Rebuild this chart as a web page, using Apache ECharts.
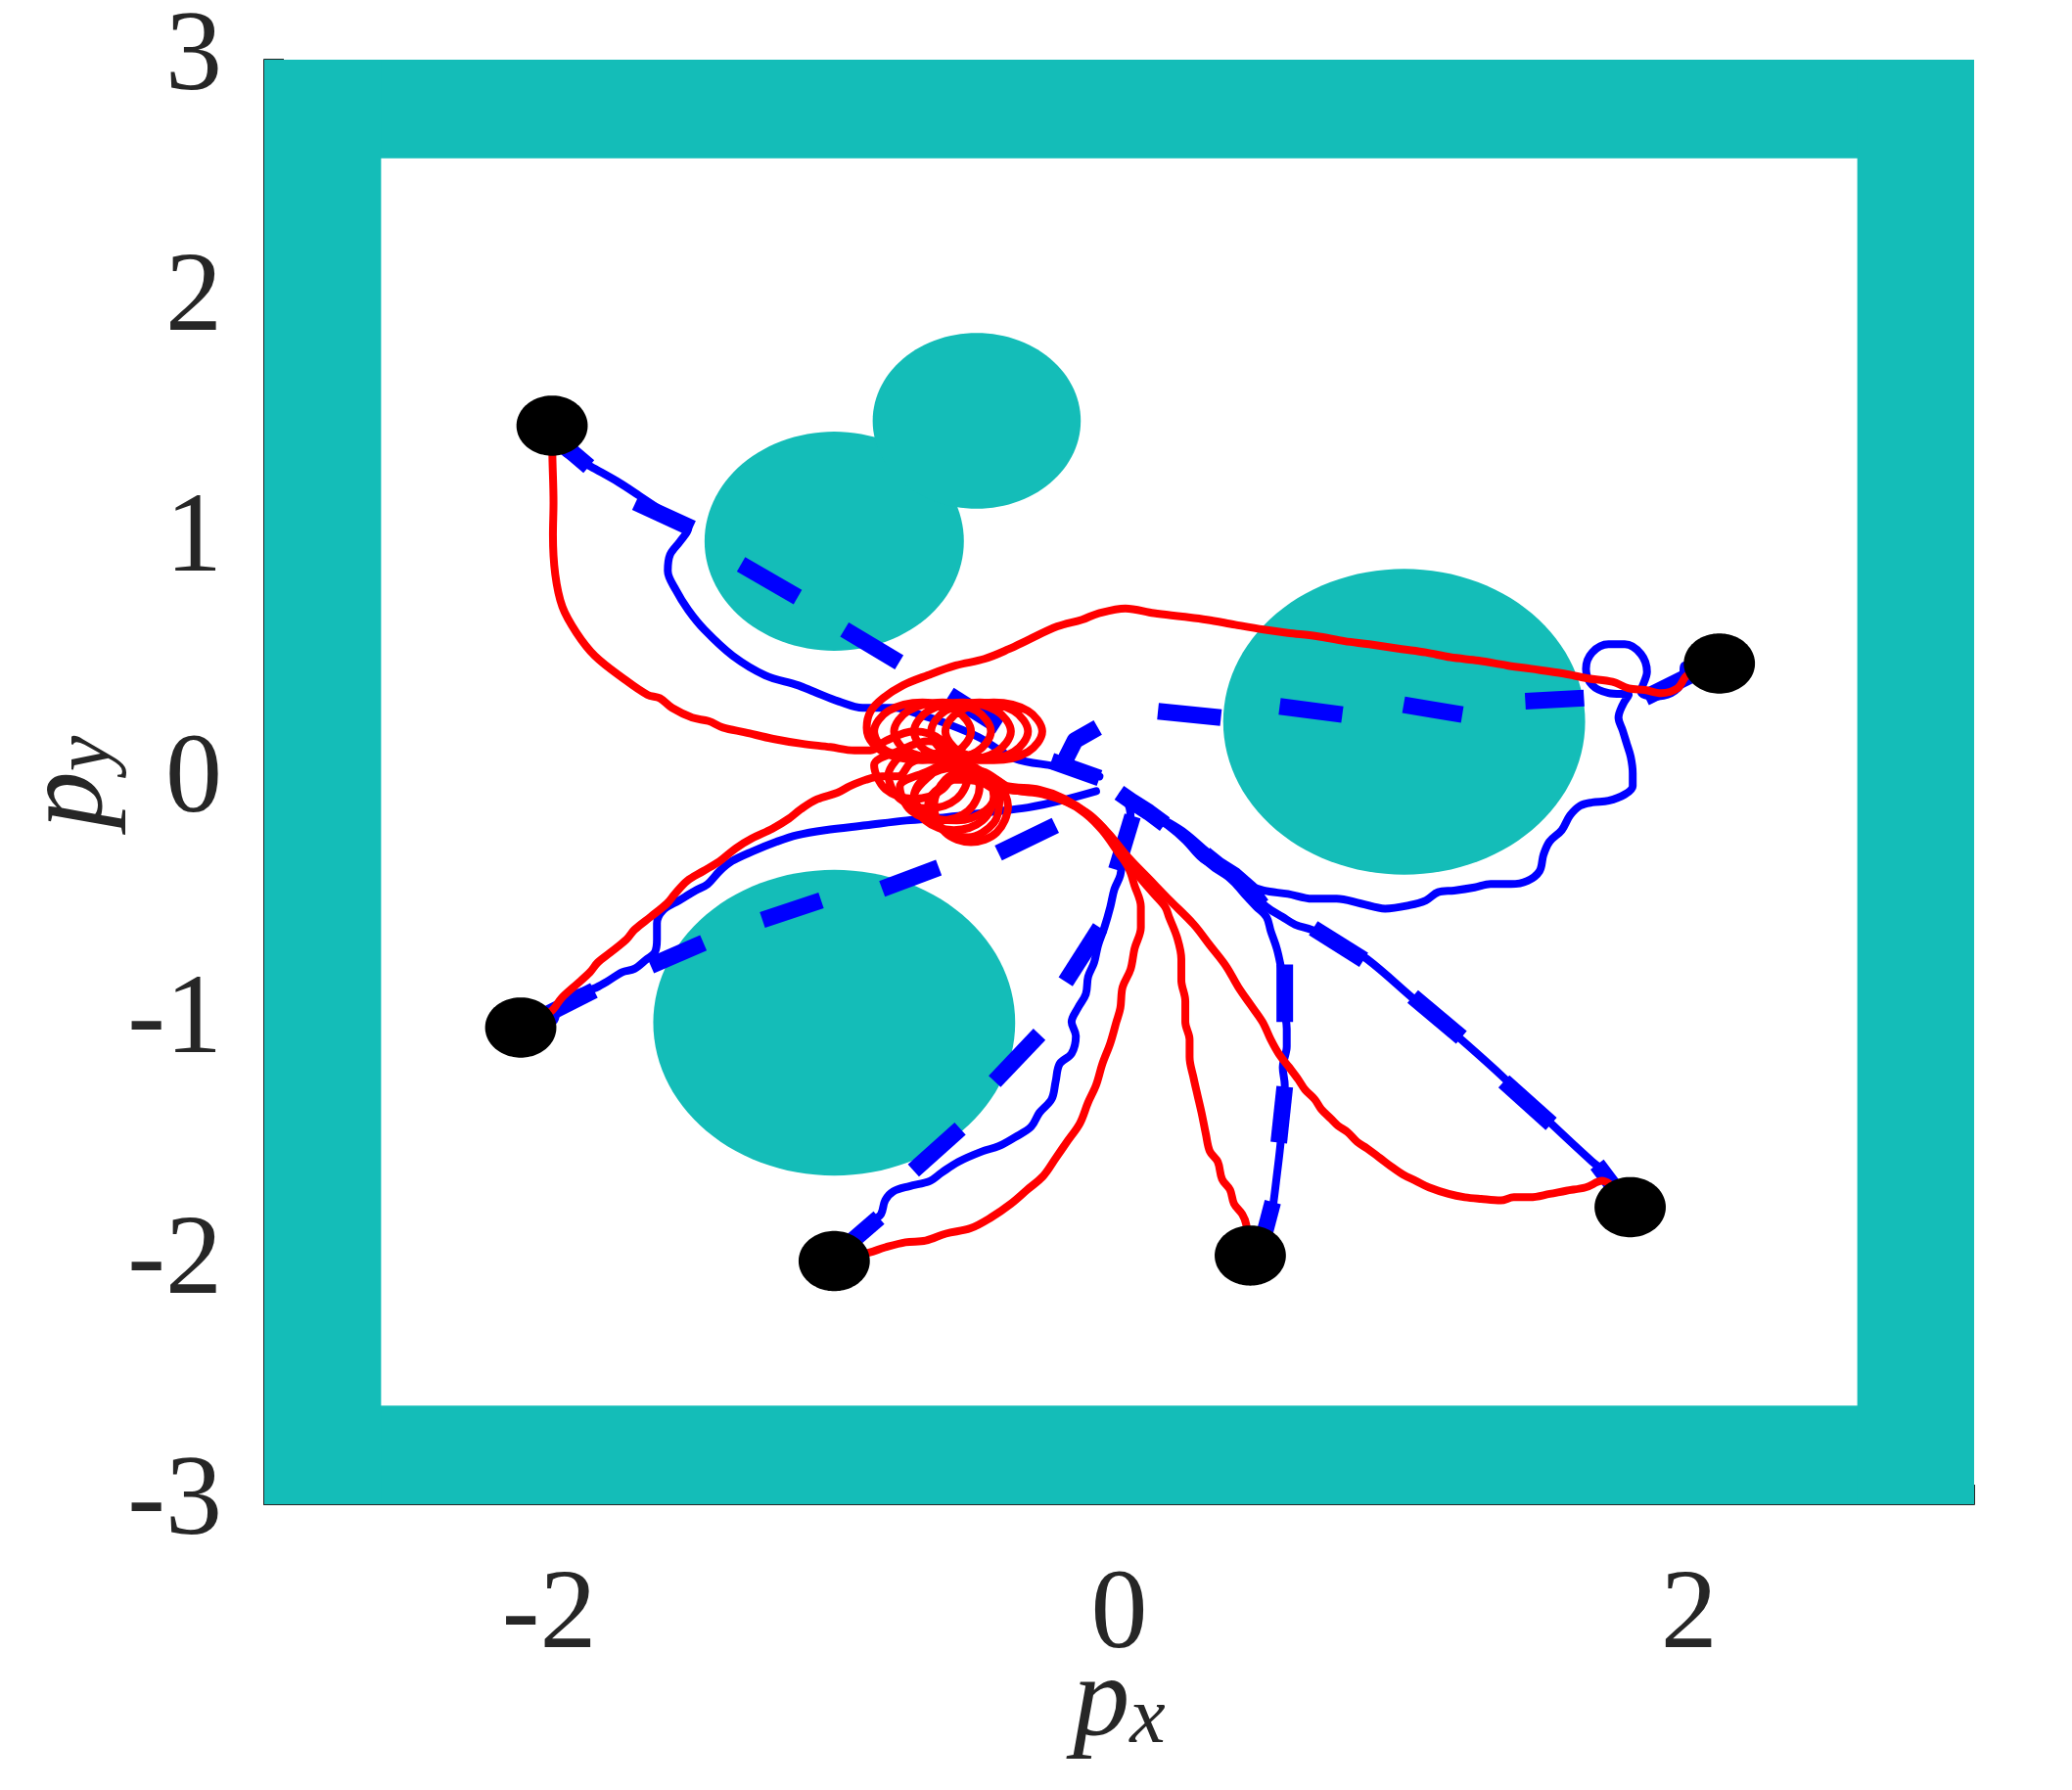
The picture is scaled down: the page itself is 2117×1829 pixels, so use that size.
<!DOCTYPE html>
<html><head><meta charset="utf-8">
<script src="https://cdn.jsdelivr.net/npm/echarts@6/dist/echarts.min.js"></script>
<style>html,body{margin:0;padding:0;background:#fff;}#chart{width:2117px;height:1829px;}</style>
</head><body><div id="chart"></div>
<script>
// ---------- data ----------
const xTickLabels = [-2, 0, 2];
const yTickLabels = [-3, -2, -1, 0, 1, 2, 3];

const wallOuter = 3;
const wallInner = 2.59;

const obstacleX = [-1, -0.5, 1, -1];
const obstacleY = [1, 1.5, 0.25, -1];
const obstacleR = [0.455, 0.365, 0.635, 0.635];

const agentX = [-1.99, -2.1, -1.0, 0.46, 1.793, 2.106];
const agentY = [1.48, -1.02, -1.99, -1.967, -1.766, 0.492];
const agentR = 0.125;

const red1 = [[-1.99,1.48],[-1.989,1.354],[-1.985,1.161],[-1.987,1.026],[-1.979,0.863],[-1.954,0.728],[-1.904,0.619],[-1.840,0.524],[-1.740,0.430],[-1.655,0.362],[-1.612,0.348],[-1.569,0.308],[-1.498,0.267],[-1.441,0.253],[-1.391,0.226],[-1.313,0.206],[-1.214,0.179],[-1.114,0.159],[-1.014,0.145],[-0.929,0.131],[-0.872,0.131],
[-0.82,0.17],[-0.72,0.21],[-0.62,0.17],[-0.58,0.07],[-0.62,-0.03],[-0.72,-0.07],[-0.82,-0.03],[-0.86,0.07],[-0.77,0.13],[-0.67,0.17],[-0.57,0.13],[-0.53,0.03],[-0.57,-0.07],[-0.67,-0.11],[-0.77,-0.07],[-0.81,0.03],[-0.76,0.12]];
const red2 = [[-2.1,-1.02],[-1.993,-0.952],[-1.957,-0.898],[-1.907,-0.844],[-1.857,-0.790],[-1.829,-0.749],[-1.786,-0.709],[-1.729,-0.654],[-1.701,-0.614],[-1.644,-0.560],[-1.587,-0.505],[-1.559,-0.465],[-1.516,-0.411],[-1.459,-0.370],[-1.402,-0.329],[-1.345,-0.275],[-1.288,-0.234],[-1.217,-0.194],[-1.160,-0.153],[-1.117,-0.113],[-1.060,-0.072],[-0.989,-0.045],[-0.946,-0.018],[-0.889,0.009],[-0.832,0.023],[-0.775,0.023],
[-0.73,0.08],[-0.63,0.12],[-0.53,0.08],[-0.49,-0.02],[-0.53,-0.12],[-0.63,-0.16],[-0.73,-0.12],[-0.77,-0.02],[-0.68,0.04],[-0.58,0.08],[-0.48,0.04],[-0.44,-0.06],[-0.48,-0.16],[-0.58,-0.20],[-0.68,-0.16],[-0.72,-0.06],[-0.66,0.03]];
const red3 = [[-1.0,-1.99],[-0.878,-1.955],[-0.821,-1.933],[-0.750,-1.912],[-0.679,-1.905],[-0.608,-1.876],[-0.522,-1.854],[-0.451,-1.810],[-0.380,-1.752],[-0.323,-1.694],[-0.266,-1.636],[-0.223,-1.563],[-0.181,-1.491],[-0.138,-1.418],[-0.109,-1.331],[-0.081,-1.259],[-0.059,-1.171],[-0.031,-1.084],[-0.010,-0.997],[0.004,-0.939],[0.012,-0.852],[0.040,-0.778],[0.054,-0.692],[0.076,-0.605],[0.076,-0.518],[0.054,-0.431],[0.033,-0.358],[-0.005,-0.29],[-0.06,-0.20],[-0.12,-0.13],[-0.19,-0.08],[-0.28,-0.045],[-0.40,-0.03],
[-0.50,0.02],[-0.60,0.0],[-0.67,-0.09],[-0.63,-0.19],[-0.53,-0.23],[-0.44,-0.17],[-0.42,-0.07],[-0.49,0.0],[-0.58,0.01]];
const red4 = [[0.46,-1.967],[0.446,-1.839],[0.432,-1.796],[0.403,-1.752],[0.389,-1.694],[0.361,-1.650],[0.346,-1.578],[0.318,-1.534],[0.304,-1.462],[0.289,-1.374],[0.275,-1.302],[0.261,-1.229],[0.247,-1.142],[0.247,-1.070],[0.232,-0.997],[0.232,-0.910],[0.218,-0.823],[0.218,-0.736],[0.204,-0.649],[0.175,-0.561],[0.161,-0.518],[0.118,-0.460],[0.076,-0.402],[0.047,-0.358],[0.015,-0.30],[-0.035,-0.22],[-0.10,-0.14],[-0.18,-0.085],[-0.27,-0.05],[-0.38,-0.03],
[-0.47,0.04],[-0.57,0.06],[-0.68,0.02],[-0.72,-0.06],[-0.67,-0.14],[-0.57,-0.16],[-0.47,-0.12],[-0.43,-0.04],[-0.50,0.03]];
const red5 = [[1.793,-1.766],[1.694,-1.657],[1.637,-1.684],[1.568,-1.698],[1.511,-1.711],[1.442,-1.725],[1.385,-1.725],[1.339,-1.738],[1.270,-1.732],[1.213,-1.725],[1.156,-1.711],[1.087,-1.684],[1.041,-1.657],[0.995,-1.630],[0.961,-1.603],[0.915,-1.562],[0.870,-1.522],[0.835,-1.495],[0.801,-1.454],[0.767,-1.427],[0.744,-1.400],[0.709,-1.359],[0.686,-1.318],[0.652,-1.278],[0.629,-1.237],[0.595,-1.183],[0.560,-1.129],[0.532,-1.070],[0.503,-0.997],[0.460,-0.924],[0.418,-0.852],[0.375,-0.765],[0.318,-0.678],[0.261,-0.591],[0.175,-0.489],[0.104,-0.402],[0.033,-0.315],[-0.038,-0.213],[-0.109,-0.133],[-0.195,-0.068],[-0.280,-0.032],[-0.394,-0.017],
[-0.43,0.01],[-0.52,0.05],[-0.61,0.01],[-0.65,-0.10],[-0.61,-0.21],[-0.52,-0.25],[-0.43,-0.21],[-0.39,-0.10],[-0.43,0.0],[-0.50,0.05]];
const red6 = [[2.106,0.492],[1.994,0.443],[1.959,0.389],[1.902,0.369],[1.845,0.382],[1.788,0.389],[1.731,0.416],[1.645,0.430],[1.560,0.450],[1.446,0.470],[1.361,0.484],[1.261,0.504],[1.162,0.518],[1.076,0.538],[0.991,0.552],[0.877,0.572],[0.791,0.585],[0.692,0.606],[0.592,0.619],[0.507,0.633],[0.407,0.653],[0.307,0.674],[0.222,0.687],[0.122,0.701],[0.022,0.721],[-0.074,0.700],[-0.131,0.674],[-0.217,0.646],[-0.316,0.592],[-0.387,0.552],[-0.473,0.511],[-0.573,0.484],[-0.672,0.443],[-0.758,0.402],[-0.829,0.348],[-0.872,0.294],[-0.886,0.226],[-0.864,0.159],[-0.80,0.11],
[-0.69,0.09],[-0.57,0.125],[-0.52,0.21],[-0.57,0.295],[-0.69,0.33],[-0.81,0.295],[-0.86,0.21],[-0.81,0.125],
[-0.62,0.09],[-0.50,0.125],[-0.45,0.21],[-0.50,0.295],[-0.62,0.33],[-0.74,0.295],[-0.79,0.21],[-0.74,0.125],
[-0.55,0.09],[-0.43,0.125],[-0.38,0.21],[-0.43,0.295],[-0.55,0.33],[-0.67,0.295],[-0.72,0.21],[-0.67,0.125],
[-0.49,0.09],[-0.37,0.125],[-0.32,0.21],[-0.37,0.295],[-0.49,0.33],[-0.61,0.295],[-0.66,0.21],[-0.61,0.125],
[-0.44,0.09],[-0.32,0.125],[-0.27,0.21],[-0.32,0.295],[-0.44,0.33],[-0.56,0.295],[-0.61,0.21],[-0.56,0.125],[-0.45,0.095]];

const blue1 = [[-1.99,1.48],[-1.954,1.378],[-1.854,1.310],[-1.754,1.243],[-1.683,1.188],[-1.598,1.121],[-1.512,1.053],[-1.541,0.999],[-1.576,0.944],[-1.584,0.877],[-1.555,0.796],[-1.512,0.714],[-1.456,0.633],[-1.356,0.524],[-1.242,0.443],[-1.128,0.402],[-1.071,0.375],[-0.985,0.335],[-0.900,0.308],[-0.786,0.308],[-0.70,0.28],[-0.60,0.24],[-0.493,0.186],[-0.367,0.098],[-0.218,0.064],[-0.069,0.023]];
const blue2 = [[-2.1,-1.02],[-1.985,-0.993],[-1.971,-0.925],[-1.943,-0.898],[-1.886,-0.871],[-1.843,-0.858],[-1.800,-0.831],[-1.744,-0.790],[-1.701,-0.776],[-1.658,-0.736],[-1.630,-0.709],[-1.622,-0.654],[-1.622,-0.587],[-1.601,-0.533],[-1.544,-0.492],[-1.487,-0.451],[-1.444,-0.424],[-1.402,-0.370],[-1.359,-0.329],[-1.288,-0.289],[-1.202,-0.248],[-1.131,-0.221],[-1.032,-0.200],[-0.889,-0.180],[-0.747,-0.160],[-0.604,-0.146],[-0.462,-0.126],[-0.320,-0.106],[-0.206,-0.078],[-0.081,-0.038]];
const blue3 = [[-1.0,-1.99],[-0.885,-1.868],[-0.864,-1.825],[-0.836,-1.796],[-0.821,-1.737],[-0.793,-1.701],[-0.736,-1.679],[-0.665,-1.658],[-0.622,-1.622],[-0.565,-1.578],[-0.480,-1.534],[-0.423,-1.513],[-0.366,-1.476],[-0.309,-1.432],[-0.280,-1.374],[-0.237,-1.317],[-0.223,-1.244],[-0.209,-1.171],[-0.167,-1.128],[-0.152,-1.055],[-0.167,-0.997],[-0.145,-0.939],[-0.117,-0.881],[-0.109,-0.809],[-0.088,-0.750],[-0.074,-0.678],[-0.052,-0.605],[-0.031,-0.518],[-0.017,-0.446],[0.004,-0.387],[0.012,-0.300],[0.026,-0.213],[0.040,-0.141],[0.026,-0.068]];
const blue4 = [[0.46,-1.967],[0.524,-1.868],[0.539,-1.767],[0.553,-1.636],[0.567,-1.491],[0.574,-1.360],[0.581,-1.259],[0.574,-1.186],[0.588,-1.099],[0.588,-1.026],[0.581,-0.939],[0.581,-0.852],[0.567,-0.765],[0.553,-0.692],[0.532,-0.620],[0.517,-0.561],[0.481,-0.518],[0.446,-0.474],[0.403,-0.416],[0.346,-0.358],[0.289,-0.315],[0.232,-0.242],[0.175,-0.184],[0.118,-0.141],[0.061,-0.097],[0.019,-0.061]];
const blue5 = [[1.793,-1.766],[1.728,-1.644],[1.659,-1.576],[1.499,-1.400],[1.339,-1.217],[1.179,-1.048],[1.030,-0.898],[0.870,-0.736],[0.766,-0.661],[0.675,-0.614],[0.618,-0.593],[0.572,-0.560],[0.532,-0.532],[0.503,-0.504],[0.460,-0.446],[0.403,-0.387],[0.346,-0.344],[0.289,-0.286],[0.232,-0.228],[0.161,-0.170],[0.104,-0.126],[0.047,-0.083],[0.012,-0.053]];
const blue6 = [[2.106,0.492],[1.984,0.484],[1.976,0.416],[1.937,0.369],[1.874,0.355],[1.831,0.375],[1.852,0.457],[1.831,0.531],[1.774,0.572],[1.717,0.572],[1.660,0.538],[1.638,0.470],[1.660,0.402],[1.717,0.369],[1.788,0.362],[1.767,0.321],[1.752,0.267],[1.767,0.213],[1.781,0.159],[1.795,0.104],[1.802,0.037],[1.802,-0.017],[1.774,-0.052],[1.717,-0.078],[1.660,-0.085],[1.617,-0.099],[1.582,-0.139],[1.553,-0.200],[1.510,-0.248],[1.489,-0.302],[1.475,-0.370],[1.432,-0.411],[1.375,-0.424],[1.303,-0.424],[1.247,-0.438],[1.175,-0.451],[1.119,-0.458],[1.076,-0.492],[1.019,-0.512],[0.933,-0.526],[0.848,-0.505],[0.763,-0.485],[0.677,-0.485],[0.592,-0.465],[0.507,-0.451],[0.450,-0.424],[0.432,-0.402],[0.361,-0.344],[0.304,-0.286],[0.232,-0.213],[0.175,-0.170],[0.104,-0.126],[0.061,-0.083],[0.018,-0.053]];

// thick dashed plans: each entry is one visible dash
const dash1 = [[[-1.99,1.44],[-1.861,1.310]],[[-1.697,1.161],[-1.498,1.053]],[[-1.327,0.904],[-1.128,0.768]],[[-0.964,0.633],[-0.772,0.497]],[[-0.596,0.362],[-0.420,0.230]],[[-0.238,0.087],[-0.069,0.016]]];
const dash2 = [[[-2.05,-0.99],[-1.843,-0.866]],[[-1.644,-0.763],[-1.459,-0.668]],[[-1.252,-0.573],[-1.046,-0.492]],[[-0.832,-0.444],[-0.633,-0.356]],[[-0.424,-0.295],[-0.224,-0.180]]];
const dash3 = [[[-0.98,-1.95],[-0.843,-1.810]],[[-0.722,-1.614],[-0.558,-1.440]],[[-0.437,-1.244],[-0.280,-1.048]],[[-0.188,-0.830],[-0.067,-0.605]],[[-0.010,-0.365],[0.047,-0.141]]];
const dash4 = [[[0.50,-1.92],[0.539,-1.745]],[[0.560,-1.498],[0.581,-1.266]],[[0.581,-0.997],[0.581,-0.758]]];
const dash5 = [[[1.76,-1.72],[1.677,-1.589]],[[1.516,-1.420],[1.350,-1.244]],[[1.201,-1.061],[1.030,-0.891]],[[0.858,-0.739],[0.681,-0.607]],[[0.50,-0.51],[0.46,-0.446],[0.403,-0.387],[0.346,-0.344],[0.30,-0.30]],[[0.16,-0.175],[0.104,-0.126],[0.047,-0.083],[0.0,-0.045]]];
const dash6 = [[[2.05,0.47],[1.846,0.350]],[[1.631,0.349],[1.425,0.335]],[[1.204,0.280],[1.10,0.30],[0.998,0.321]],[[0.783,0.280],[0.563,0.314]],[[0.357,0.267],[0.136,0.294]],[[-0.075,0.226],[-0.155,0.172],[-0.184,0.104],[-0.19,0.07]]];

// ---------- styling ----------
const TEAL = '#14bdb8';
const RED = '#ff0000';
const BLUE = '#0000ff';
const TXT = '#262626';
const FONT = 'Liberation Serif';

const wallRects = [
  [-wallOuter, wallInner, wallOuter, wallOuter],
  [-wallOuter, -wallOuter, wallOuter, -wallInner],
  [-wallOuter, -wallOuter, -wallInner, wallOuter],
  [wallInner, -wallOuter, wallOuter, wallOuter]
];

function rectItem(params, api) {
  const a = api.coord([api.value(0), api.value(1)]);
  const b = api.coord([api.value(2), api.value(3)]);
  return { type: 'rect', shape: { x: Math.min(a[0], b[0]), y: Math.min(a[1], b[1]), width: Math.abs(b[0] - a[0]), height: Math.abs(b[1] - a[1]) }, style: { fill: TEAL } };
}
function discRenderer(color) {
  return function (params, api) {
    const cx = api.value(0), cy = api.value(1), r = api.value(2);
    const pts = [];
    for (let k = 0; k < 120; k++) {
      const t = k / 120 * Math.PI * 2;
      pts.push(api.coord([cx + r * Math.cos(t), cy + r * Math.sin(t)]));
    }
    return { type: 'polygon', shape: { points: pts }, style: { fill: color } };
  };
}
const allDashes = [dash1, dash2, dash3, dash4, dash5, dash6].flat();
function dashItem(params, api) {
  const seg = allDashes[api.value(2)];
  return { type: 'polyline', shape: { points: seg.map(p => api.coord(p)) }, style: { stroke: BLUE, lineWidth: 17, fill: null, lineCap: 'butt', lineJoin: 'round' } };
}

function pathSeries(data, color, z) {
  return { type: 'line', data: data, showSymbol: false, symbol: 'none', smooth: 0.35, silent: true, z: z,
    lineStyle: { color: color, width: 8, join: 'round', cap: 'round' } };
}

const nameRich = {
  p: { fontFamily: FONT, fontStyle: 'italic', fontSize: 116, lineHeight: 116, color: TXT },
  s: { fontFamily: FONT, fontStyle: 'italic', fontSize: 82, lineHeight: 36, verticalAlign: 'bottom', color: TXT }
};

const chart = echarts.init(document.getElementById('chart'), null, { renderer: 'canvas' });
chart.setOption({
  animation: false,
  backgroundColor: '#ffffff',
  grid: { left: 270, top: 61, right: 100, bottom: 292, containLabel: false, outerBoundsMode: 'none' },
  xAxis: {
    type: 'value', min: -3, max: 3, interval: 1,
    axisLine: { show: true, onZero: false, lineStyle: { color: TXT, width: 2 } },
    axisTick: { show: true, inside: true, length: 20, lineStyle: { color: TXT, width: 2 } },
    splitLine: { show: false },
    axisLabel: { formatter: v => (xTickLabels.indexOf(v) >= 0 ? String(v) : ''), fontFamily: FONT, fontSize: 116, color: TXT, margin: 58 },
    name: '{p|p}{s|x}', nameLocation: 'middle', nameGap: 146, nameMoveOverlap: false,
    nameTextStyle: { rich: nameRich }
  },
  yAxis: {
    type: 'value', min: -3, max: 3, interval: 1,
    axisLine: { show: true, onZero: false, lineStyle: { color: TXT, width: 2 } },
    axisTick: { show: true, inside: true, length: 20, lineStyle: { color: TXT, width: 2 } },
    splitLine: { show: false },
    axisLabel: { formatter: v => (yTickLabels.indexOf(v) >= 0 ? String(v) : ''), fontFamily: FONT, fontSize: 116, color: TXT, margin: 43 },
    name: '{p|p}{s|y}', nameLocation: 'middle', nameGap: 140, nameMoveOverlap: false,
    nameTextStyle: { rich: nameRich }
  },
  series: [
    { type: 'custom', renderItem: rectItem, data: wallRects, z: 1, silent: true },
    { type: 'custom', renderItem: discRenderer(TEAL), data: obstacleX.map((x, i) => [x, obstacleY[i], obstacleR[i]]), z: 1, silent: true },
    { type: 'custom', renderItem: dashItem, data: allDashes.map((s, i) => [s[0][0], s[0][1], i]), z: 2, silent: true },
    pathSeries(blue1, BLUE, 3), pathSeries(blue2, BLUE, 3), pathSeries(blue3, BLUE, 3),
    pathSeries(blue4, BLUE, 3), pathSeries(blue5, BLUE, 3), pathSeries(blue6, BLUE, 3),
    pathSeries(red1, RED, 4), pathSeries(red2, RED, 4), pathSeries(red3, RED, 4),
    pathSeries(red4, RED, 4), pathSeries(red5, RED, 4), pathSeries(red6, RED, 4),
    { type: 'custom', renderItem: discRenderer('#000000'), data: agentX.map((x, i) => [x, agentY[i], agentR]), z: 10, silent: true }
  ]
});
</script></body></html>
